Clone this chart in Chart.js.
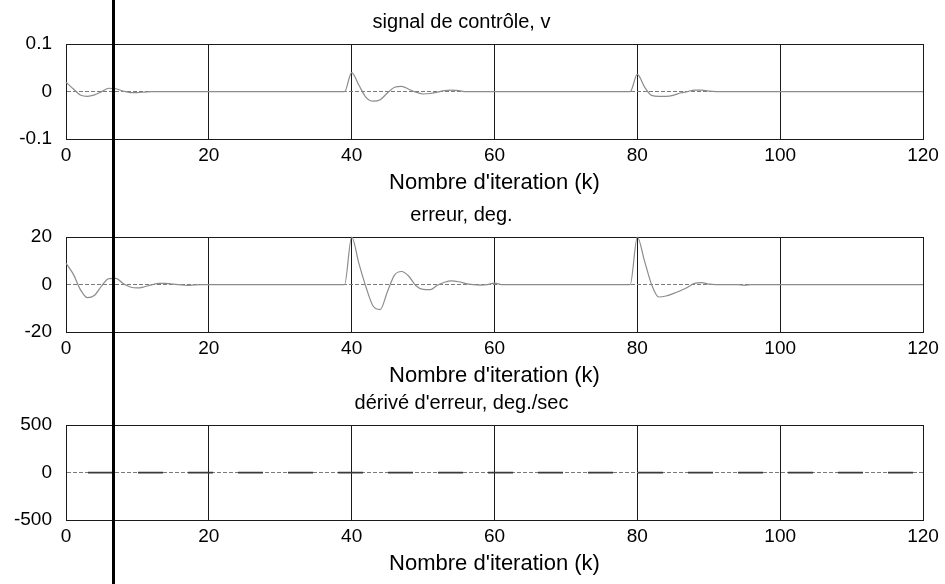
<!DOCTYPE html>
<html>
<head>
<meta charset="utf-8">
<script src="https://cdn.jsdelivr.net/npm/chart.js@4"></script>
<style>
  html, body { margin: 0; padding: 0; background: #fff; }
  #page { position: relative; width: 945px; height: 584px; overflow: hidden; }
  #page canvas { position: absolute; left: 0; }
  #trait { position: absolute; top: 0; width: 3px; height: 584px; background: #000; }
</style>
</head>
<body>
<div id="page">
  <canvas id="g1" width="945" height="193" style="top:1px"></canvas>
  <canvas id="g2" width="945" height="193" style="top:194px"></canvas>
  <canvas id="g3" width="945" height="193" style="top:382px"></canvas>
  <div id="trait"></div>
</div>
<script>
// iterations (k)
const kPoints = [
  0, 1, 2, 3, 4, 5, 6, 7, 8, 9, 10, 11, 12, 13, 14, 15, 16, 17, 18, 19, 20, 30, 39,
  40, 41, 42, 43, 44, 45, 46, 47, 48, 49, 50, 51, 52, 53, 54, 55, 56, 57, 58, 59, 60, 61, 70, 79,
  80, 81, 82, 83, 84, 85, 86, 87, 88, 89, 90, 91, 92, 93, 94, 95, 96, 100, 110, 120
];

// signal de contrôle, v
const controle = [
  0.02, 0.006, -0.007, -0.010, -0.007, 0.0, 0.007, 0.006, 0.001, -0.002, -0.002, -0.001, 0, 0, 0, 0, 0, 0, 0, 0, 0, 0, 0,
  0.04, 0.014, -0.012, -0.02, -0.017, -0.003, 0.009, 0.011, 0.005, -0.001, -0.005, -0.004, -0.001, 0.002, 0.003, 0.002, 0, 0, 0, 0, 0, 0, 0, 0,
  0.036, 0.01, -0.008, -0.01, -0.01, -0.008, -0.003, 0.0, 0.003, 0.003, 0.001, 0, 0, 0, 0, 0, 0, 0, 0, 0
];

// erreur, deg.
const erreur = [
  9, 4.5, -2, -5.5, -4.5, -0.5, 2.5, 2.6, 0.5, -1, -1.4, -0.9, -0.1, 0.5, 0.5, 0.2, -0.1, -0.3, -0.1, 0, 0, 0, 0,
  20, 9, -1, -9, -10.5, -3, 4, 5.5, 3.5, -0.5, -2, -2.1, -0.3, 1, 1.6, 1.2, 0.4, 0, -0.2, 0, 0.6, 0, 0, 0,
  20, 10, 0, -5.2, -4.8, -3.8, -2.6, -1.2, 0.5, 0.8, 0.2, 0, 0, 0, 0, -0.3, 0, 0, 0, 0
];

// dérivé d'erreur, deg./sec
const kDerive = [0, 20, 40, 60, 80, 100, 120];
const derive = [0, 0, 0, 0, 0, 0, 0];

const titres = ["signal de contrôle, v", "erreur, deg.", "dérivé d'erreur, deg./sec"];
const xTitre = "Nombre d'iteration (k)";
const xTicks = [0, 20, 40, 60, 80, 100, 120];
const yLimites = [0.1, 20, 500];

// trait vertical du scan (position en k)
const kTrait = 6.65;

Chart.defaults.font.family = "'Liberation Sans', Arial, sans-serif";
Chart.defaults.color = "#000";

function points(ks, vals) {
  return ks.map((k, i) => ({ x: k, y: vals[i] }));
}

function sousGraphe(id, titre, data, lim, style) {
  const ctx = document.getElementById(id).getContext("2d");
  return new Chart(ctx, {
    type: "line",
    data: {
      datasets: [Object.assign({
        data: data,
        pointRadius: 0,
        fill: false,
        cubicInterpolationMode: "monotone",
        clip: false
      }, style)]
    },
    options: {
      responsive: false,
      animation: false,
      events: [],
      layout: { padding: { left: 0, right: 22, top: 0, bottom: 0 } },
      plugins: {
        legend: { display: false },
        tooltip: { enabled: false },
        title: {
          display: true,
          text: titre,
          font: { size: 20, weight: "normal" },
          padding: { top: 9, bottom: 10 }
        }
      },
      scales: {
        x: {
          type: "linear",
          min: 0,
          max: 120,
          afterBuildTicks: s => { s.ticks = xTicks.map(v => ({ value: v })); },
          ticks: { font: { size: 19 }, padding: 5, maxRotation: 0 },
          grid: { color: "#1a1a1a", lineWidth: 1, drawTicks: false },
          border: { display: true, color: "#1a1a1a" },
          title: {
            display: true,
            text: xTitre,
            font: { size: 22, weight: "normal", lineHeight: 1 },
            padding: { top: 0, bottom: 0 }
          }
        },
        y: {
          min: -lim,
          max: lim,
          afterBuildTicks: s => { s.ticks = [-lim, 0, lim].map(v => ({ value: v })); },
          afterFit: s => { s.width = 66; },
          ticks: {
            font: { size: 19 },
            padding: 14,
            callback: v => String(+v.toFixed(3))
          },
          grid: {
            drawTicks: false,
            color: c => (c.tick && c.tick.value === 0 ? "#7a7a7a" : "#1a1a1a"),
            lineWidth: 1
          },
          border: {
            display: true,
            color: "#1a1a1a",
            dash: c => (c.tick && c.tick.value === 0 ? [4, 2] : [])
          }
        }
      }
    }
  });
}

const ligneGrise = { borderColor: "#8c8c8c", borderWidth: 1.2 };

const g1 = sousGraphe("g1", titres[0], points(kPoints, controle), yLimites[0], ligneGrise);
const g2 = sousGraphe("g2", titres[1], points(kPoints, erreur), yLimites[1], ligneGrise);
const g3 = sousGraphe("g3", titres[2], points(kDerive, derive), yLimites[2], {
  borderColor: "#3a3a3a",
  borderWidth: 1.6,
  borderDash: [25, 25],
  borderDashOffset: 28,
  cubicInterpolationMode: "default",
  tension: 0
});

// trait noir vertical qui traverse toute la page
const trait = document.getElementById("trait");
trait.style.left = (g1.scales.x.getPixelForValue(kTrait) - 1.5) + "px";
</script>
</body>
</html>
